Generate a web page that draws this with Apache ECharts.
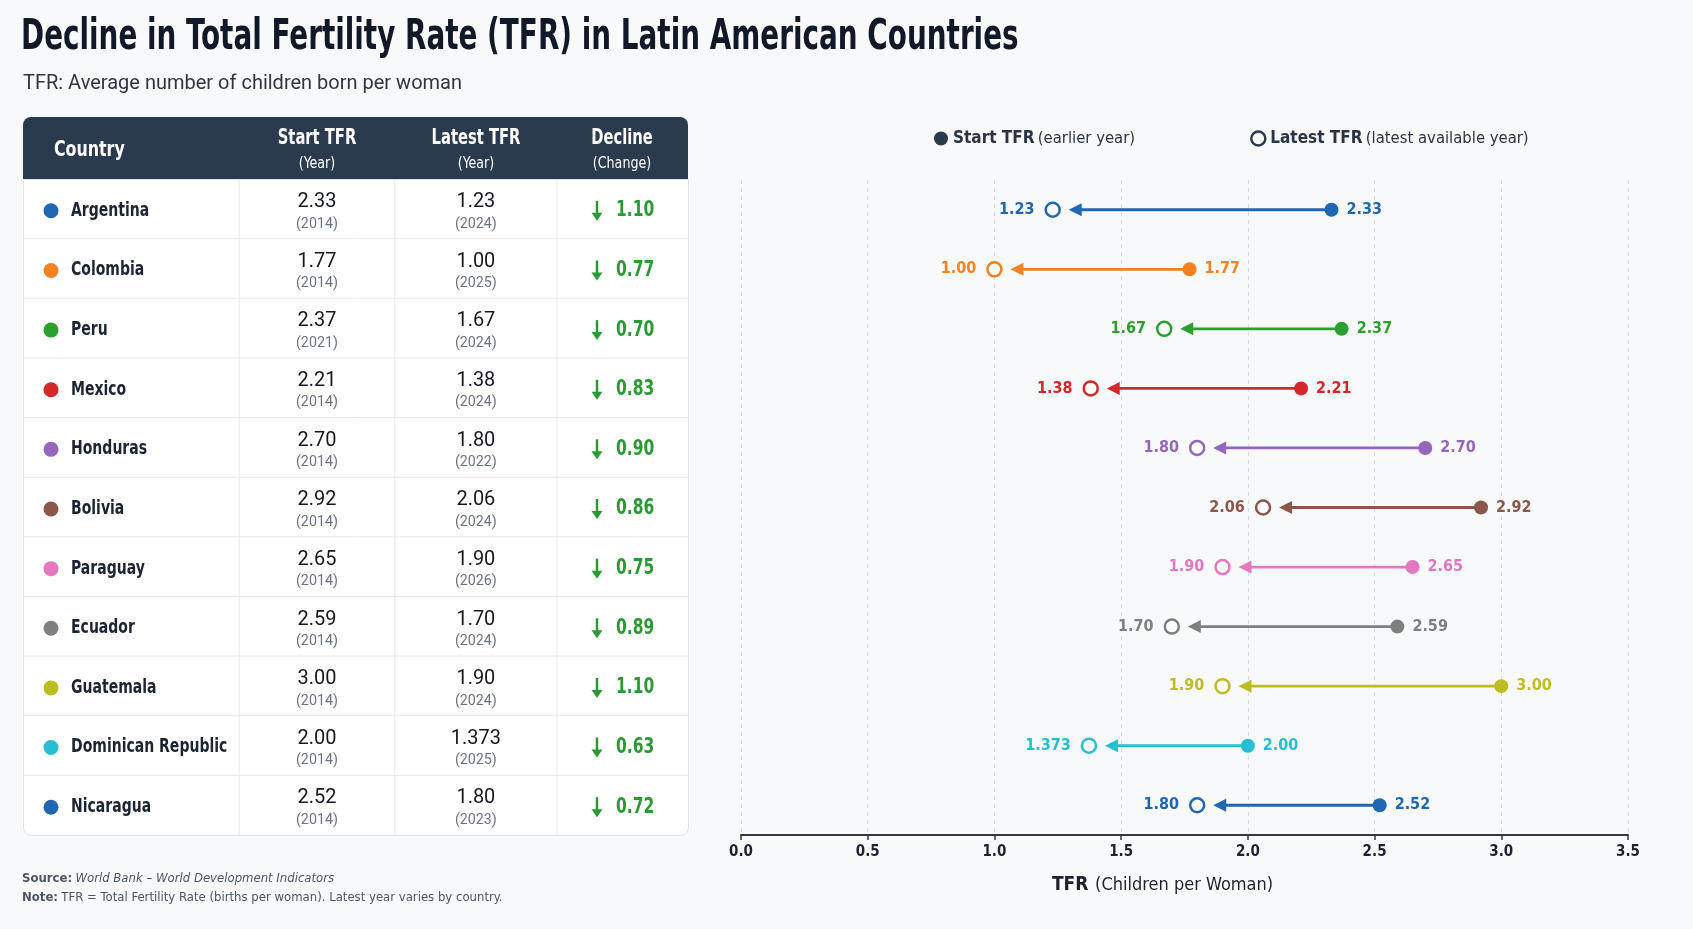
<!DOCTYPE html>
<html>
<head>
<meta charset="utf-8">
<script src="https://cdn.jsdelivr.net/npm/echarts@6/dist/echarts.min.js"></script>
<style>
  html, body { margin: 0; padding: 0; background: #f8f9fb; }
  #chart { width: 1693px; height: 929px; }
</style>
</head>
<body>
<div id="chart"></div>
<script>
// data
const countries = ['Argentina', 'Colombia', 'Peru', 'Mexico', 'Honduras', 'Bolivia',
  'Paraguay', 'Ecuador', 'Guatemala', 'Dominican Republic', 'Nicaragua']
const startTFR = [2.33, 1.77, 2.37, 2.21, 2.70, 2.92, 2.65, 2.59, 3.00, 2.00, 2.52]
const startYear = [2014, 2014, 2021, 2014, 2014, 2014, 2014, 2014, 2014, 2014, 2014]
const latestTFR = [1.23, 1.00, 1.67, 1.38, 1.80, 2.06, 1.90, 1.70, 1.90, 1.373, 1.80]
const latestYear = [2024, 2025, 2024, 2024, 2022, 2024, 2026, 2024, 2024, 2025, 2023]
const decline = [1.10, 0.77, 0.70, 0.83, 0.90, 0.86, 0.75, 0.89, 1.10, 0.63, 0.72]
const colors = ['#2166b3', '#f28222', '#2ca02c', '#d62728', '#9467bd', '#8c564b',
  '#e377c2', '#7f7f7f', '#bcbd22', '#27bdd2', '#2166b3']
const xTicks = { min: 0, max: 3.5, step: 0.5 }

const COND = "'Liberation Sans Narrow', 'DejaVu Sans Condensed', Roboto, sans-serif"
const REG = "Roboto, 'Noto Sans', sans-serif"
const GREEN = '#2a9a32'
const NAVY = '#2b3a4f'
const LINE = '#e6e8ec'

// table column boundaries as fraction of the table width
const colBounds = [0.325, 0.559, 0.803]
const colCenter = [(0.325 + 0.559) / 2, (0.559 + 0.803) / 2]

function fmt(v) {
    const d = (String(v).split('.')[1] || '').length
    return v.toFixed(Math.max(2, d))
}

// text element, squeezed horizontally to mimic a condensed face
function txt(text, x, y, font, fill, align, sx) {
    return {
        type: 'text', x: x, y: y, scaleX: sx || 1,
        style: { text: text, x: 0, y: 0, font: font, fill: fill, align: align || 'left', verticalAlign: 'middle' }
    }
}

function renderRow(params, api) {
    const i = api.value(0)
    const cs = params.coordSys
    const cy = api.coord([0, i])[1]
    const h = api.size([0, 1])[1]
    const x0 = cs.x, w = cs.width
    const ty = cy + 2
    const kids = []
    if (i < countries.length - 1) {
        kids.push({ type: 'line', shape: { x1: x0, y1: cy + h / 2, x2: x0 + w, y2: cy + h / 2 },
            style: { stroke: LINE, lineWidth: 1 } })
    }
    colBounds.forEach(f => {
        kids.push({ type: 'line', shape: { x1: x0 + w * f, y1: cy - h / 2, x2: x0 + w * f, y2: cy + h / 2 },
            style: { stroke: LINE, lineWidth: 1 } })
    })
    kids.push({ type: 'circle', shape: { cx: x0 + 28, cy: ty, r: 7.5 }, style: { fill: colors[i] } })
    kids.push(txt(countries[i], x0 + 48, ty, 'bold 19px ' + COND, '#1c2433', 'left', 0.82))
    const cells = [[startTFR[i], startYear[i]], [latestTFR[i], latestYear[i]]]
    cells.forEach((c, k) => {
        const cx = x0 + w * colCenter[k]
        kids.push(txt(fmt(c[0]), cx, ty - 9, '21px ' + REG, '#15181f', 'center', 0.95))
        kids.push(txt('(' + c[1] + ')', cx, ty + 13, '15px ' + REG, '#6b7280', 'center', 0.95))
    })
    const ax = x0 + w * colBounds[2] + 40
    kids.push({ type: 'line', shape: { x1: ax, y1: ty - 10, x2: ax, y2: ty + 4 },
        style: { stroke: GREEN, lineWidth: 2.5 } })
    kids.push({ type: 'polygon', shape: { points: [[ax - 5.5, ty + 2], [ax + 5.5, ty + 2], [ax, ty + 10]] },
        style: { fill: GREEN } })
    kids.push(txt(decline[i].toFixed(2), ax + 19, ty, 'bold 21px ' + COND, GREEN, 'left', 0.82))
    return { type: 'group', children: kids }
}

function renderArrow(params, api) {
    const i = api.value(0)
    const p1 = api.coord([api.value(1), i])
    const p2 = api.coord([api.value(2), i])
    const tip = p2[0] + 16
    return {
        type: 'group',
        children: [
            { type: 'line', shape: { x1: p1[0], y1: p1[1], x2: tip + 8, y2: p2[1] },
                style: { stroke: colors[i], lineWidth: 2.8 } },
            { type: 'polygon', shape: { points: [[tip, p2[1]], [tip + 13, p2[1] - 6.5], [tip + 13, p2[1] + 6.5]] },
                style: { fill: colors[i] } }
        ]
    }
}

function headText(text, x, y, bold) {
    return {
        type: 'text', x: x, y: y, scaleX: bold ? 0.78 : 0.88,
        style: { text: text, font: (bold ? 'bold 21px ' : '16px ') + COND, fill: '#fff', align: 'center', verticalAlign: 'middle' }
    }
}

const rowIdx = countries.map((c, i) => i)

const option = {
    backgroundColor: '#f8f9fb',
    animation: false,
    title: [
        { text: 'TFR: Average number of children born per woman', left: 18, top: 69,
          textStyle: { fontFamily: REG, fontWeight: 'normal', fontSize: 20, color: '#2f3542' } }
    ],
    legend: {
        left: 929, top: 125, itemGap: 115, itemWidth: 14, itemHeight: 14,
        data: [
            { name: 'Start TFR', icon: 'circle', itemStyle: { color: NAVY } },
            { name: 'Latest TFR', icon: 'circle', itemStyle: { color: '#fff', borderColor: NAVY, borderWidth: 2.5 } }
        ],
        formatter: n => n === 'Start TFR' ? '{b|Start TFR} {n|(earlier year)}' : '{b|Latest TFR} {n|(latest available year)}',
        textStyle: {
            rich: {
                b: { fontFamily: COND, fontWeight: 'bold', fontSize: 17, color: '#2b3443' },
                n: { fontFamily: COND, fontSize: 16.5, color: '#2b3443' }
            }
        }
    },
    graphic: [
        { type: 'text', x: 21, y: 38, scaleX: 0.72,
          style: { text: 'Decline in Total Fertility Rate (TFR) in Latin American Countries',
                   font: 'bold 43px ' + COND, fill: '#111827', verticalAlign: 'middle' } },
        { type: 'rect', left: 23, top: 179, z: -1,
          shape: { width: 665, height: 656, r: [0, 0, 8, 8] },
          style: { fill: '#fff', stroke: '#dfe2e7', lineWidth: 1 } },
        { type: 'rect', left: 23, top: 117,
          shape: { width: 665, height: 62, r: [8, 8, 0, 0] }, style: { fill: NAVY } },
        { type: 'text', x: 54, y: 150, scaleX: 0.8,
          style: { text: 'Country', font: 'bold 22px ' + COND, fill: '#fff', verticalAlign: 'middle' } },
        headText('Start TFR', 317, 139, true),
        headText('(Year)', 317, 164, false),
        headText('Latest TFR', 476, 139, true),
        headText('(Year)', 476, 164, false),
        headText('Decline', 622, 139, true),
        headText('(Change)', 622, 164, false),
        { type: 'text', left: 22, top: 872,
          style: { rich: { b: { font: 'bold 13px ' + COND, fill: '#4b5563' }, i: { font: 'italic 13px ' + COND, fill: '#4b5563' } },
                   text: '{b|Source:} {i|World Bank – World Development Indicators}' } },
        { type: 'text', left: 22, top: 891,
          style: { rich: { b: { font: 'bold 13px ' + COND, fill: '#4b5563' }, n: { font: '13px ' + COND, fill: '#4b5563' } },
                   text: '{b|Note:} {n|TFR = Total Fertility Rate (births per woman). Latest year varies by country.}' } }
    ],
    grid: [
        { left: 23, top: 179, width: 665, height: 656 },
        { left: 741, top: 180, width: 887, height: 655 }
    ],
    xAxis: [
        { gridIndex: 0, type: 'value', min: 0, max: 1, show: false },
        {
            gridIndex: 1, type: 'value', min: xTicks.min, max: xTicks.max, interval: xTicks.step,
            axisLine: { show: true, lineStyle: { color: '#333a44', width: 2 } },
            axisTick: { show: true, length: 5, lineStyle: { color: '#333a44', width: 1.5 } },
            axisLabel: { formatter: v => v.toFixed(1), fontFamily: COND, fontWeight: 'bold', fontSize: 15, color: '#1c2230', margin: 10 },
            splitLine: { show: true, lineStyle: { color: '#d9dce1', type: [4, 4], width: 1 } },
            name: '{b|TFR}  {n|(Children per Woman)}', nameLocation: 'middle', nameGap: 41,
            nameTextStyle: {
                padding: [0, 44, 0, 0],
                rich: {
                    b: { fontFamily: COND, fontWeight: 'bold', fontSize: 19, color: '#1c2230' },
                    n: { fontFamily: COND, fontSize: 18, color: '#1c2230' }
                }
            }
        }
    ],
    yAxis: [
        { gridIndex: 0, type: 'category', data: countries, inverse: true, show: false },
        { gridIndex: 1, type: 'category', data: countries, inverse: true, show: false }
    ],
    series: [
        {
            type: 'custom', name: 'table', xAxisIndex: 0, yAxisIndex: 0,
            renderItem: renderRow, data: rowIdx.map(i => [i]), silent: true
        },
        {
            type: 'custom', name: 'change', xAxisIndex: 1, yAxisIndex: 1,
            renderItem: renderArrow, data: rowIdx.map(i => [i, startTFR[i], latestTFR[i]]),
            encode: { x: [1, 2], y: 0 }, silent: true
        },
        {
            type: 'scatter', name: 'Start TFR', xAxisIndex: 1, yAxisIndex: 1, symbolSize: 14, z: 3,
            itemStyle: { color: NAVY, opacity: 1 },
            data: rowIdx.map(i => ({
                value: [startTFR[i], countries[i]],
                itemStyle: { color: colors[i], opacity: 1 },
                label: { color: colors[i] }
            })),
            label: { show: true, position: 'right', distance: 8, formatter: p => fmt(p.value[0]),
                fontFamily: COND, fontWeight: 'bold', fontSize: 16 }
        },
        {
            type: 'scatter', name: 'Latest TFR', xAxisIndex: 1, yAxisIndex: 1, symbolSize: 14, z: 3,
            itemStyle: { color: '#fff', borderColor: NAVY, borderWidth: 2.5, opacity: 1 },
            data: rowIdx.map(i => ({
                value: [latestTFR[i], countries[i]],
                itemStyle: { borderColor: colors[i], opacity: 1 },
                label: { color: colors[i] }
            })),
            label: { show: true, position: 'left', distance: 10, formatter: p => fmt(p.value[0]),
                fontFamily: COND, fontWeight: 'bold', fontSize: 16 }
        }
    ]
}

const chart = echarts.init(document.getElementById('chart'))
chart.setOption(option)
window.addEventListener('resize', () => chart.resize())
</script>
</body>
</html>
